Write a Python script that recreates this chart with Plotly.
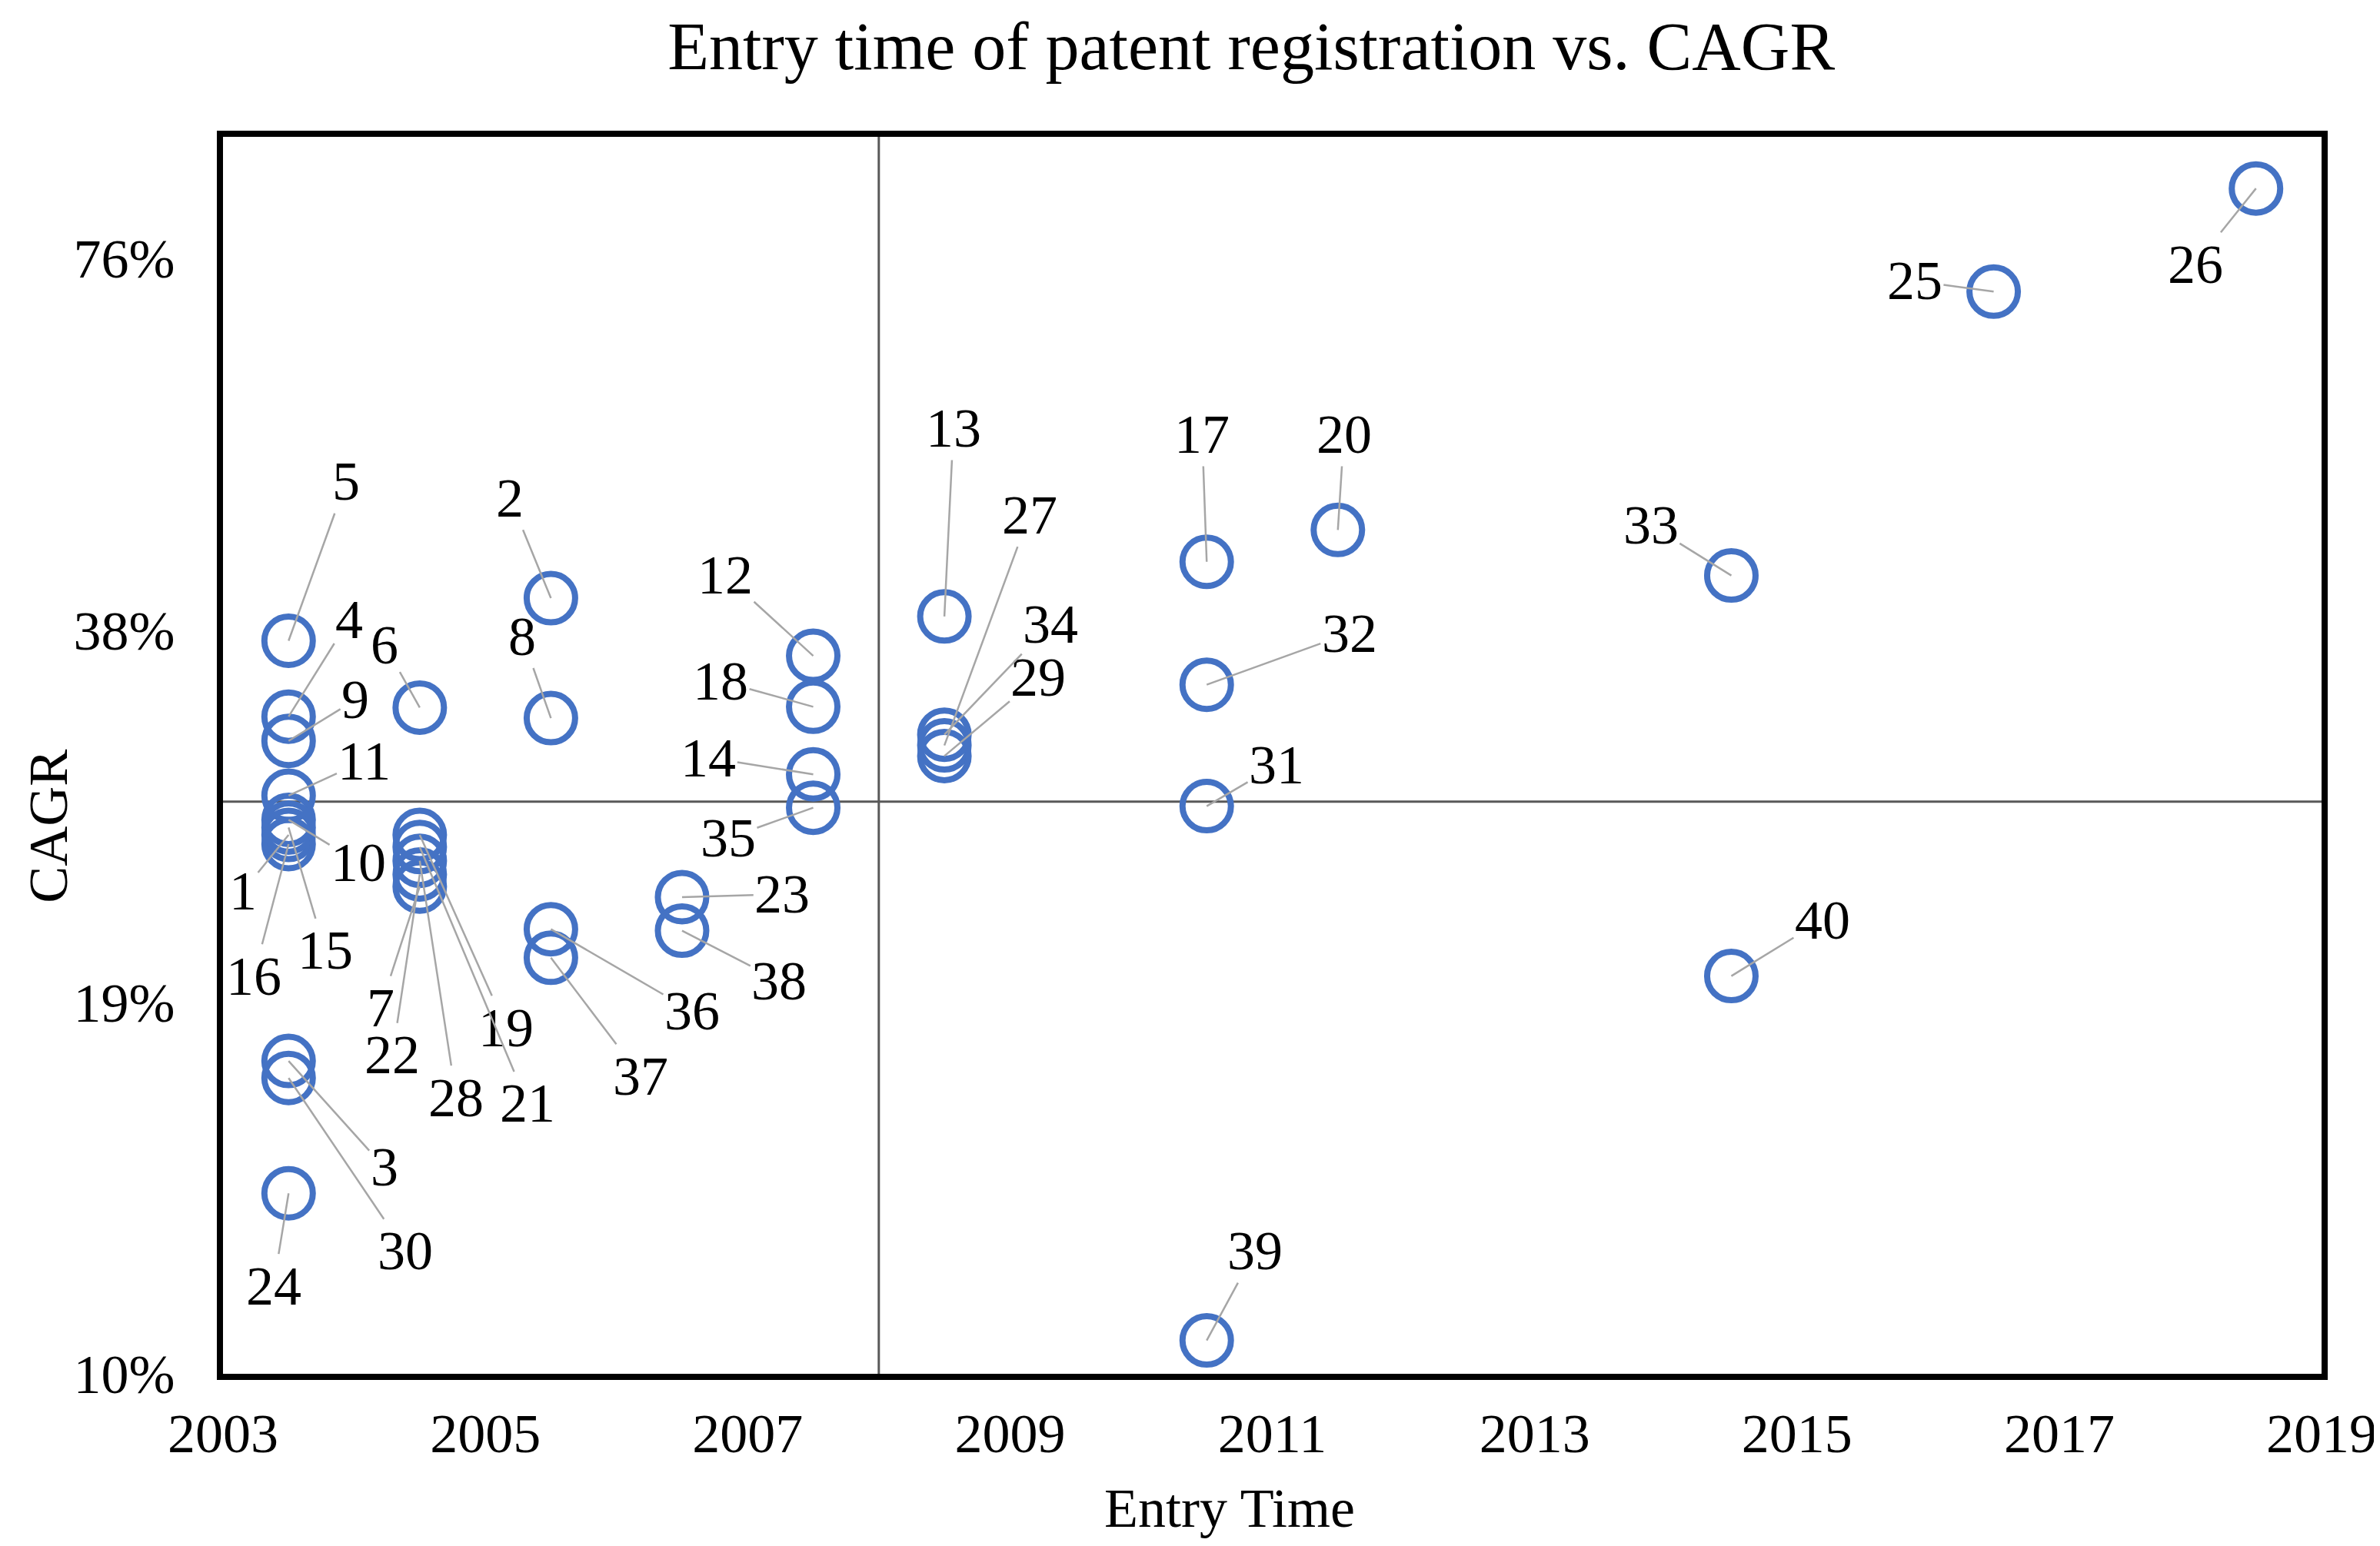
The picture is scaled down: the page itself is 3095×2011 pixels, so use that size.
import math
import plotly.graph_objects as go

# ---- data ----
ids = list(range(1, 41))
entry_time = [
    2003.5, 2005.5, 2003.5, 2003.5, 2003.5, 2004.5, 2004.5, 2005.5, 2003.5, 2003.5,
    2003.5, 2007.5, 2008.5, 2007.5, 2003.5, 2003.5, 2010.5, 2007.5, 2004.5, 2011.5,
    2004.5, 2004.5, 2006.5, 2003.5, 2016.5, 2018.5, 2008.5, 2004.5, 2008.5, 2003.5,
    2010.5, 2010.5, 2014.5, 2008.5, 2007.5, 2005.5, 2005.5, 2006.5, 2010.5, 2014.5,
]
cagr = [
    0.2594, 0.4033, 0.1702, 0.3234, 0.3725, 0.3289, 0.2356, 0.3225, 0.3091, 0.2668,
    0.2791, 0.3622, 0.3898, 0.2904, 0.2630, 0.2550, 0.4316, 0.3294, 0.2594, 0.4580,
    0.2536, 0.2410, 0.2310, 0.1330, 0.7142, 0.8656, 0.3065, 0.2472, 0.3005, 0.1649,
    0.2737, 0.3432, 0.4207, 0.3127, 0.2729, 0.2176, 0.2063, 0.2170, 0.1011, 0.1994,
]
y_tickvals = [0.095, 0.19, 0.38, 0.76]
y_ticktext = ["10%", "19%", "38%", "76%"]
x_ticks = [2003, 2005, 2007, 2009, 2011, 2013, 2015, 2017, 2019]
entry_split = 2008
cagr_split = 0.276
title_text = "Entry time of patent registration vs. CAGR"
x_title = "Entry Time"
y_title = "CAGR"

# ---- label offsets (display px, scaled to page) ----
S = 1.974
label_dx = [-30, -27, 63, 40, 38, -23, -26, -19, 44, 46,
            50, -58, 6, -69, 24, -23, -3, -61, 57, 4,
            71, -18, 66, -10, -52, -40, 56, 24, 62, 77,
            46, 94, -53, 70, -56, 93, 59, 64, 32, 60]
label_dy = [37, -66, 70, -64, -105, -41, 80, -54, -27, 28,
            -23, -53, -124, -11, 81, 87, -84, -17, 127, -63,
            169, 119, -2, 61, -7, 50, -152, 156, -52, 114,
            -27, -34, -33, -73, 20, 54, 78, 33, -59, -37]

FONT = "Liberation Serif"
BLUE = "#4472C4"

fig = go.Figure()
fig.add_trace(go.Scatter(
    x=entry_time, y=cagr, mode="markers",
    marker=dict(symbol="circle-open", size=63, color=BLUE,
                line=dict(width=8, color=BLUE)),
    text=[str(i) for i in ids], hoverinfo="text+x+y",
    showlegend=False,
))

annotations = []
for i, xv, yv, dx, dy in zip(ids, entry_time, cagr, label_dx, label_dy):
    annotations.append(dict(
        x=xv, y=math.log10(yv), xref="x", yref="y",
        text=str(i), showarrow=True, arrowhead=0, arrowwidth=2.5,
        arrowcolor="#A6A6A6", ax=dx * S, ay=dy * S, standoff=0,
        font=dict(family=FONT, size=72, color="#000000"),
    ))

# axis titles (placed as in the reference, off-centre)
annotations.append(dict(
    text=x_title, xref="paper", yref="paper", x=0.4795, y=-0.109,
    xanchor="center", yanchor="middle", showarrow=False,
    font=dict(family=FONT, size=72, color="#000000"),
))
annotations.append(dict(
    text=y_title, xref="paper", yref="paper", x=-0.083, y=0.443,
    xanchor="center", yanchor="middle", showarrow=False, textangle=-90,
    font=dict(family=FONT, size=72, color="#000000"),
))

fig.add_shape(type="line", xref="x", yref="paper", x0=entry_split, x1=entry_split,
              y0=0, y1=1, line=dict(color="#595959", width=3), layer="below")
fig.add_shape(type="line", xref="paper", yref="y", x0=0, x1=1,
              y0=cagr_split, y1=cagr_split, line=dict(color="#595959", width=3), layer="below")

fig.update_layout(
    width=3095, height=2011,
    margin=dict(l=282, r=79, t=170, b=232),
    paper_bgcolor="white", plot_bgcolor="white",
    font=dict(family=FONT, size=72, color="#000000"),
    title=dict(text=title_text,
               x=0.49, xref="paper", xanchor="center",
               y=1 - 51 / 2011, yref="container", yanchor="middle",
               font=dict(family=FONT, size=88, color="#000000")),
    annotations=annotations,
    xaxis=dict(
        range=[2003, 2019], tickvals=x_ticks, ticktext=[str(t) for t in x_ticks],
        showgrid=False, zeroline=False, showline=True, linecolor="#000000",
        linewidth=8, mirror=True, ticks="", ticklabelstandoff=8,
        ticklabeloverflow="allow",
        tickfont=dict(family=FONT, size=72, color="#000000"),
    ),
    yaxis=dict(
        type="log", range=[math.log10(0.095), math.log10(0.953)],
        tickvals=y_tickvals, ticktext=y_ticktext,
        showgrid=False, zeroline=False, showline=True, linecolor="#000000",
        linewidth=8, mirror=True, ticks="", ticklabelstandoff=40,
        ticklabeloverflow="allow",
        tickfont=dict(family=FONT, size=72, color="#000000"),
    ),
)

fig.write_html("out.html")
